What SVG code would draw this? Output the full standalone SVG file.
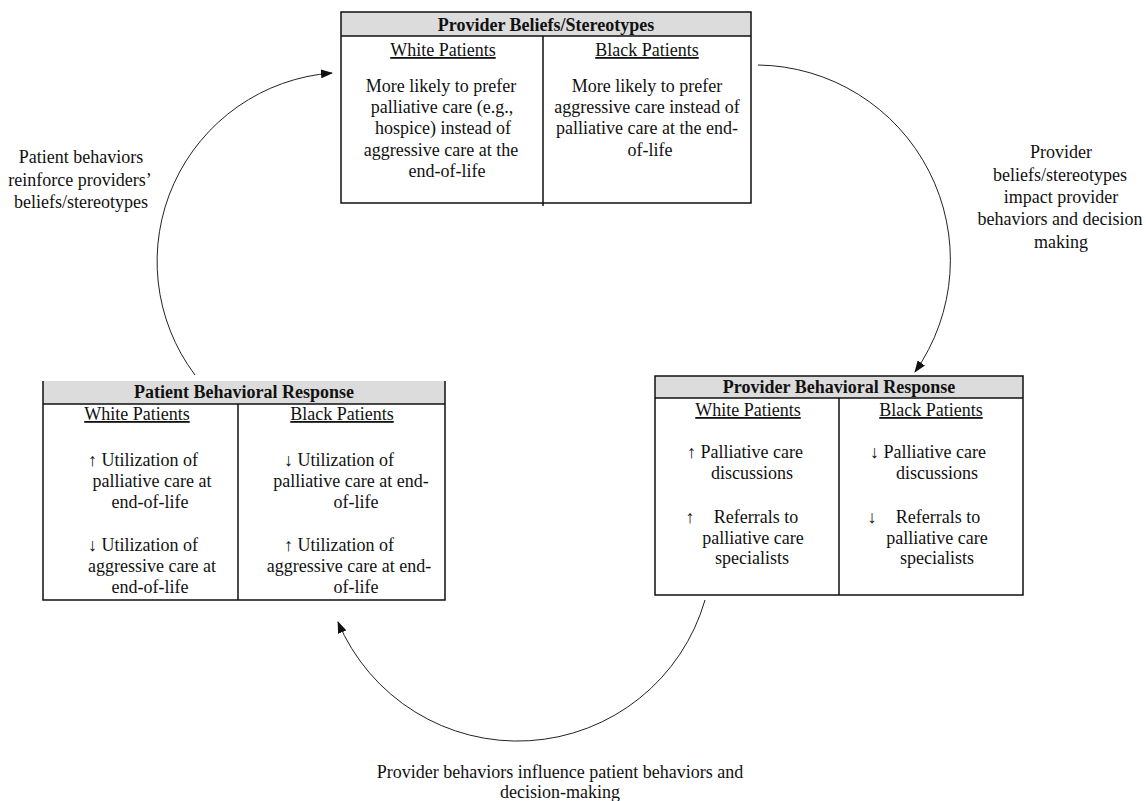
<svg xmlns="http://www.w3.org/2000/svg" width="1146" height="801" viewBox="0 0 1146 801">
<style>
text{font-family:"Liberation Serif","Times New Roman",serif;font-size:18px;fill:#111;text-anchor:middle}
.t{font-weight:bold}
.u{text-decoration:underline}
.hdr{fill:#dcdcdc;stroke:none}
.ln{stroke:#111;stroke-width:1.5;fill:none}
.arc{stroke:#222;stroke-width:1;fill:none;marker-end:url(#ah)}
</style>
<defs>
<marker id="ah" viewBox="0 0 12 9" refX="11" refY="4.5" markerWidth="12" markerHeight="9" markerUnits="userSpaceOnUse" orient="auto">
<path d="M0,0 L12,4.5 L0,9 z" fill="#111"/>
</marker>
</defs>
<rect width="1146" height="801" fill="#fff"/>

<g id="provider-beliefs">
<rect class="hdr" x="341" y="12" width="410" height="24"/>
<path class="ln" d="M341,12 H751 V203 H341 Z M341,36 H751 M543,36 V206"/>
<text class="t" x="546" y="31">Provider Beliefs/Stereotypes</text>
<text class="u" x="443" y="56">White Patients</text>
<text class="u" x="647" y="56">Black Patients</text>
<text x="441" y="92">More likely to prefer</text>
<text x="442" y="113">palliative care (e.g.,</text>
<text x="443" y="134">hospice) instead of</text>
<text x="441" y="156">aggressive care at the</text>
<text x="447" y="177">end-of-life</text>
<text x="647" y="92">More likely to prefer</text>
<text x="647" y="113">aggressive care instead of</text>
<text x="647" y="134">palliative care at the end-</text>
<text x="650" y="156">of-life</text>
</g>

<g id="provider-behavioral-response">
<rect class="hdr" x="655" y="376" width="368" height="22"/>
<path class="ln" d="M655,376 H1023 V595 H655 Z M655,398 H1023 M839,398 V595"/>
<text class="t" x="839" y="393">Provider Behavioral Response</text>
<text class="u" x="748" y="416">White Patients</text>
<text class="u" x="931" y="416">Black Patients</text>
<text x="745" y="458">↑ Palliative care</text>
<text x="752" y="479">discussions</text>
<text x="690" y="523">↑</text>
<text x="756" y="523">Referrals to</text>
<text x="753" y="544">palliative care</text>
<text x="752" y="564">specialists</text>
<text x="928" y="458">↓ Palliative care</text>
<text x="937" y="479">discussions</text>
<text x="872" y="523">↓</text>
<text x="938" y="523">Referrals to</text>
<text x="937" y="544">palliative care</text>
<text x="937" y="564">specialists</text>
</g>

<g id="patient-behavioral-response">
<rect class="hdr" x="43" y="381" width="402" height="23"/>
<path class="ln" d="M43,381 V600 H445 V381 M43,404 H445 M238,404 V600"/>
<text class="t" x="244" y="398">Patient Behavioral Response</text>
<text class="u" x="137" y="420">White Patients</text>
<text class="u" x="342" y="420">Black Patients</text>
<text x="143" y="466">↑ Utilization of</text>
<text x="152" y="487">palliative care at</text>
<text x="150" y="508">end-of-life</text>
<text x="143" y="551">↓ Utilization of</text>
<text x="152" y="572">aggressive care at</text>
<text x="150" y="593">end-of-life</text>
<text x="339" y="466">↓ Utilization of</text>
<text x="351" y="487">palliative care at end-</text>
<text x="356" y="508">of-life</text>
<text x="339" y="551">↑ Utilization of</text>
<text x="349" y="572">aggressive care at end-</text>
<text x="356" y="593">of-life</text>
</g>

<g id="connectors">
<path class="arc" d="M758,65 A195,195 0 0 1 915,372"/>
<path class="arc" d="M705,600 A195,195 0 0 1 338,622"/>
<path class="arc" d="M195,375 A189,189 0 0 1 332,73"/>
</g>

<g id="labels">
<text x="81" y="163">Patient behaviors</text>
<text x="80" y="186">reinforce providers’</text>
<text x="81" y="208">beliefs/stereotypes</text>
<text x="1061" y="158">Provider</text>
<text x="1060" y="181">beliefs/stereotypes</text>
<text x="1061" y="203">impact provider</text>
<text x="1060" y="225">behaviors and decision</text>
<text x="1061" y="248">making</text>
<text x="560" y="778">Provider behaviors influence patient behaviors and</text>
<text x="560" y="798">decision-making</text>
</g>
</svg>
